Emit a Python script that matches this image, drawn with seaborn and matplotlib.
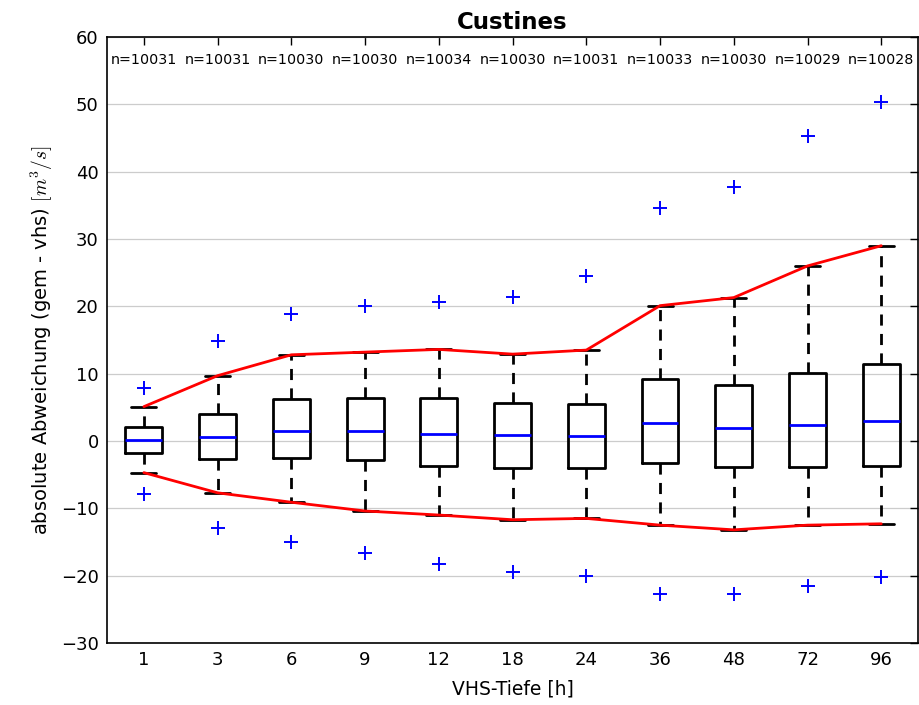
"""Boxplot of forecast deviation versus VHS lead time for gauge Custines."""

import matplotlib

matplotlib.use("Agg")
import matplotlib.pyplot as plt
import pandas as pd
import seaborn as sns

# VHS lead times (categories) and sample counts
lead_times = ["1", "3", "6", "9", "12", "18", "24", "36", "48", "72", "96"]
n_counts = [10031, 10031, 10030, 10030, 10034, 10030, 10031, 10033, 10030, 10029, 10028]

# box statistics [m^3/s]
q1 = [-1.8, -2.7, -2.5, -2.8, -3.7, -4.0, -4.0, -3.3, -3.9, -3.9, -3.7]
median = [0.2, 0.6, 1.5, 1.5, 1.1, 0.9, 0.8, 2.6, 1.9, 2.4, 3.0]
q3 = [2.1, 4.0, 6.2, 6.4, 6.4, 5.6, 5.5, 9.2, 8.3, 10.1, 11.4]
whisker_low = [-4.7, -7.7, -9.1, -10.4, -11.0, -11.7, -11.5, -12.5, -13.2, -12.5, -12.3]
whisker_high = [5.1, 9.7, 12.8, 13.2, 13.6, 12.9, 13.5, 20.1, 21.3, 26.0, 29.0]
extreme_low = [-7.9, -12.9, -15.0, -16.7, -18.3, -19.4, -20.1, -22.8, -22.8, -21.5, -20.2]
extreme_high = [7.8, 14.9, 18.9, 20.0, 20.7, 21.4, 24.5, 34.6, 37.7, 45.3, 50.4]

sns.set_style("white")
plt.rcParams["font.family"] = ["DejaVu Sans"]
plt.rcParams["mathtext.fontset"] = "cm"
plt.rcParams["text.color"] = "black"
plt.rcParams["axes.labelcolor"] = "black"

positions = list(range(1, len(lead_times) + 1))
stats = [
    {"med": m, "q1": a, "q3": b, "whislo": lo, "whishi": hi, "fliers": []}
    for m, a, b, lo, hi in zip(median, q1, q3, whisker_low, whisker_high)
]

fig = plt.figure(figsize=(9.2, 7.05), dpi=100)
ax = fig.add_axes([0.1163, 0.088, 0.8817, 0.8595])

ax.bxp(
    stats,
    positions=positions,
    widths=0.5,
    capwidths=0.34,
    showfliers=False,
    boxprops={"color": "black", "linewidth": 2},
    whiskerprops={"color": "black", "linewidth": 2, "linestyle": (0, (4, 3))},
    capprops={"color": "black", "linewidth": 2},
    medianprops={"color": "blue", "linewidth": 2},
)

# red envelope through whisker ends
env = pd.DataFrame({"pos": positions, "high": whisker_high, "low": whisker_low})
sns.lineplot(data=env, x="pos", y="high", color="red", linewidth=2, sort=False, ax=ax)
sns.lineplot(data=env, x="pos", y="low", color="red", linewidth=2, sort=False, ax=ax)

# extreme values as blue crosses
ext = pd.DataFrame({
    "pos": positions * 2,
    "value": extreme_high + extreme_low,
})
sns.scatterplot(data=ext, x="pos", y="value", marker="+", s=110, color="blue",
                linewidth=1.4, ax=ax, zorder=3)

# sample counts above each box
for p, n in zip(positions, n_counts):
    ax.text(p, 56.6, f"n={n}", ha="center", va="center", fontsize=10.3)

ax.set_xlim(0.5, len(lead_times) + 0.5)
ax.set_ylim(-30, 60)
ax.set_yticks(range(-30, 61, 10))
ax.set_xticks(positions)
ax.set_xticklabels(lead_times)
ax.yaxis.grid(True, color="#cccccc", linewidth=0.9)
ax.set_axisbelow(True)

for spine in ax.spines.values():
    spine.set_color("black")
    spine.set_linewidth(1.2)
ax.tick_params(direction="in", length=6, width=1, top=True, right=True,
               labelsize=13, colors="black", pad=6)

ax.set_title("Custines", fontsize=16.5, fontweight="bold", pad=6)
ax.set_xlabel("VHS-Tiefe [h]", fontsize=13.5, labelpad=7)
ax.set_ylabel("absolute Abweichung (gem - vhs) $[m^3/s]$", fontsize=14, labelpad=4)

fig.savefig("out.png", dpi=100)
plt.close(fig)
